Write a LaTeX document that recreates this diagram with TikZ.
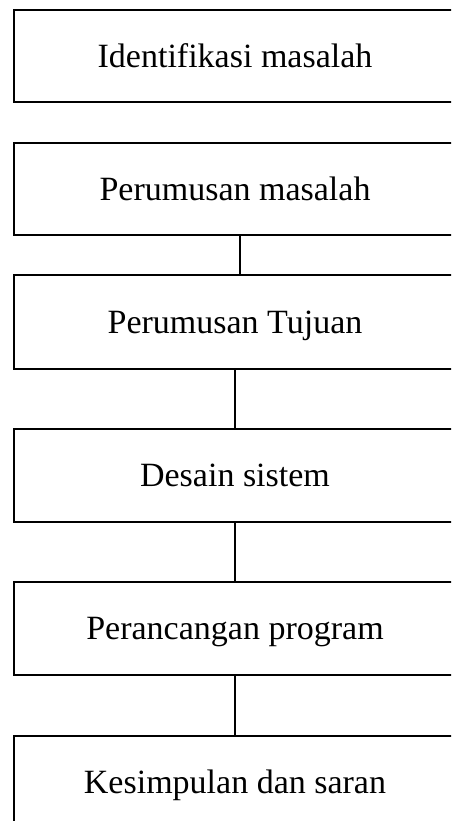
\documentclass[tikz,border=0pt]{standalone}
\usepackage{fontspec}
\setmainfont{Liberation Serif}
\usetikzlibrary{calc}
\begin{document}
\begin{tikzpicture}[x=1pt,y=-1pt,
  stepbox/.style={draw=black,line width=1.2pt,rectangle,minimum width=442pt,minimum height=92pt,
    inner sep=0pt,text height=22.5pt,text depth=0pt,font=\fontsize{34}{40}\selectfont},
  link/.style={draw=black,line width=1.2pt}]
\clip (0,0) rectangle (451,821);
\fill[white] (0,0) rectangle (451,821);
\node[stepbox] (b1) at (235,56) {Identifikasi masalah};
\node[stepbox] (b2) at (235,189) {Perumusan masalah};
\node[stepbox,minimum height=94pt] (b3) at (235,322) {Perumusan Tujuan};
\node[stepbox,minimum height=93pt] (b4) at (235,475.5) {Desain sistem};
\node[stepbox,minimum height=93pt] (b5) at (235,628.5) {Perancangan program};
\node[stepbox] (b6) at (235,782) {Kesimpulan dan saran};
\draw[link] ([xshift=5pt]b2.south) -- ([xshift=5pt]b3.north);
\draw[link] (b3.south) -- (b4.north);
\draw[link] (b4.south) -- (b5.north);
\draw[link] (b5.south) -- (b6.north);
\end{tikzpicture}
\end{document}
